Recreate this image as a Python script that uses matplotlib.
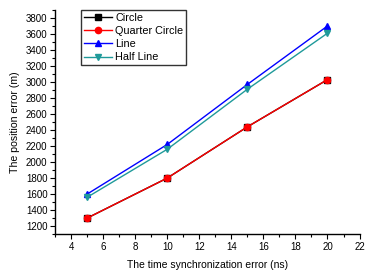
import numpy as np
import matplotlib
matplotlib.use('Agg')
import matplotlib.pyplot as plt
from matplotlib.ticker import MultipleLocator

plt.rcParams['font.family'] = ['Liberation Sans', 'DejaVu Sans']

# data
sync_error = [5, 10, 15, 20]
circle = [1300, 1800, 2440, 3030]
quarter_circle = [1300, 1800, 2440, 3030]
line = [1600, 2220, 2970, 3700]
half_line = [1560, 2160, 2910, 3610]

fig = plt.figure(figsize=(3.65, 2.70), dpi=100)
ax = fig.add_axes([0.151, 0.133, 0.834, 0.830])

ax.plot(sync_error, circle, color='black', marker='s', markersize=4, lw=1, label='Circle')
ax.plot(sync_error, quarter_circle, color='red', marker='o', markersize=4.5, lw=1, label='Quarter Circle')
ax.plot(sync_error, line, color='blue', marker='^', markersize=4.5, lw=1, label='Line')
ax.plot(sync_error, half_line, color='#1f9a9a', marker='v', markersize=4.5, lw=1, label='Half Line')

ax.set_xlim(3, 22)
ax.set_ylim(1100, 3900)
ax.xaxis.set_major_locator(MultipleLocator(2))
ax.xaxis.set_minor_locator(MultipleLocator(1))
ax.yaxis.set_major_locator(MultipleLocator(200))
ax.yaxis.set_minor_locator(MultipleLocator(100))

for s in ['top', 'right']:
    ax.spines[s].set_visible(False)
for s in ['left', 'bottom']:
    ax.spines[s].set_linewidth(1)

ax.tick_params(which='major', direction='out', length=3.5, width=0.8, labelsize=7, pad=2)
ax.tick_params(which='minor', direction='out', length=2, width=0.8)

ax.set_xlabel('The time synchronization error (ns)', fontsize=7.5, labelpad=6)
ax.set_ylabel('The position error (m)', fontsize=7.6, labelpad=4)

leg = ax.legend(loc='upper left', bbox_to_anchor=(0.085, 1.0), fontsize=7.8,
                fancybox=False, framealpha=1, edgecolor='#333333',
                handlelength=2.6, handletextpad=0.3, borderpad=0.25,
                labelspacing=0.3, borderaxespad=0)
leg.get_frame().set_linewidth(1)

fig.savefig('out.png', dpi=100)
